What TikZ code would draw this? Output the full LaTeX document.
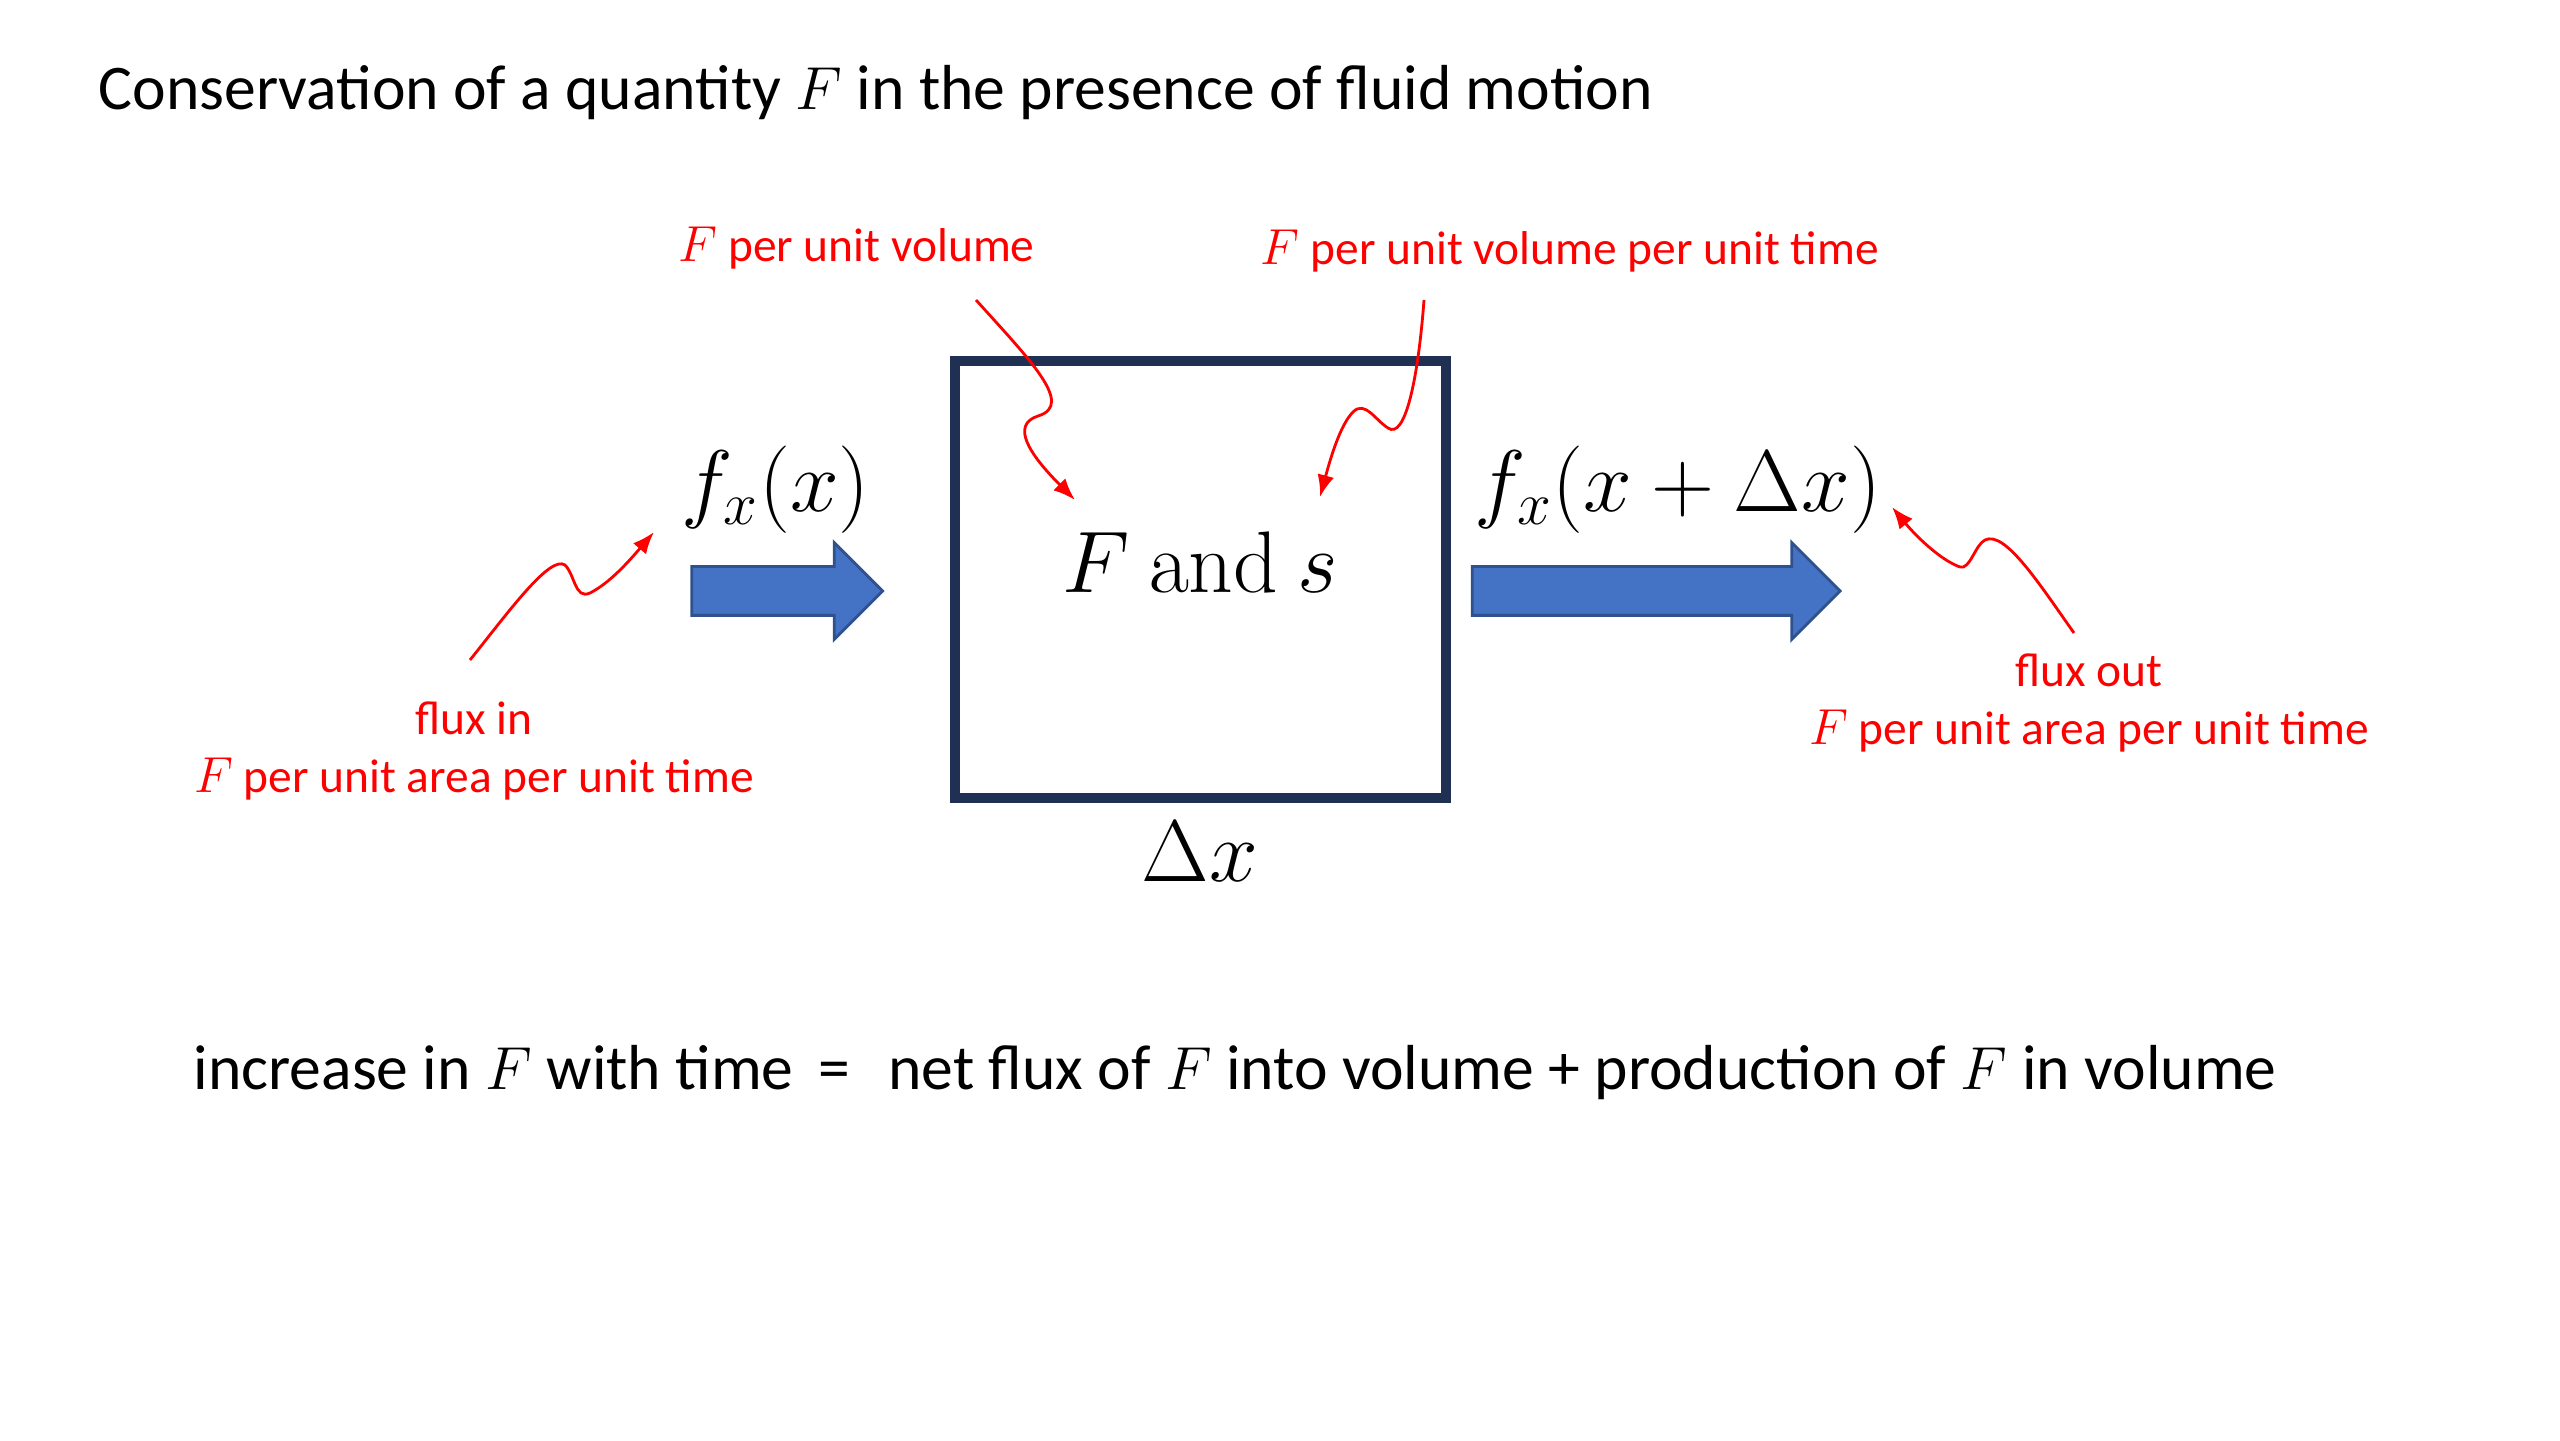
\documentclass[tikz,border=0pt]{standalone}
\usepackage{amsmath,amssymb}
\usepackage[no-math]{fontspec}
\setmainfont{Carlito}
\usepackage{xcolor}
\usepackage{tikz}
\usetikzlibrary{arrows.meta,positioning,calc,shapes.arrows}
\definecolor{CellNavy}{HTML}{1F3052}
\definecolor{FluxBlue}{HTML}{4472C4}
\definecolor{FluxEdge}{HTML}{2F528F}
\definecolor{NoteRed}{HTML}{FF0000}
\tikzset{
  cellbox/.style={draw=CellNavy,line width=0.1cm,fill=white,inner sep=0pt},
  fluxarrow/.style={single arrow,draw=FluxEdge,fill=FluxBlue,line width=0.8pt,
    inner sep=0pt,minimum width=0.94cm,single arrow head extend=0.24cm,
    text height=0.46cm,text depth=0pt,text width=0pt},
  mathlabel/.style={font=\fontsize{24}{28}\selectfont,inner sep=0pt},
  plaintext/.style={font=\fontsize{18.1}{22}\selectfont,inner sep=0pt},
  note/.style={font=\fontsize{13.5}{16.5}\selectfont,text=NoteRed,align=center,inner sep=0pt},
  notearrow/.style={-{Latex[length=2.2mm,width=1.7mm]},line width=0.8pt,NoteRed}
}

\begin{document}
\begin{tikzpicture}[x=1cm,y=1cm]
  \path[use as bounding box,fill=white] (0,0) rectangle (25.6,14.4);

  \node[plaintext,anchor=west] (title) at (0.98,13.47)
    {Conservation of a quantity $F$ in the presence of fluid motion};

  % control volume
  \node[cellbox,minimum width=4.91cm,minimum height=4.37cm] (cell) at (12.005,8.605) {};
  \node[mathlabel] (content) at (12.0,8.78) {$F\ \mathrm{and}\ s$};
  \node[mathlabel] (width) at (12.0,5.88) {$\Delta x$};

  % fluxes
  \node[fluxarrow,minimum height=1.91cm] (inflow) at (7.75,8.49) {};
  \node[fluxarrow,minimum height=3.68cm] (outflow) at (16.44,8.49) {};
  \node[mathlabel] (fluxleft) at (7.755,9.50) {$f_x(x)$};
  \node[mathlabel] (fluxright) at (16.78,9.50) {$f_x(x+\Delta x)$};

  % notes
  \node[note] (volnote) at (8.565,11.92) {$F$ per unit volume};
  \node[note] (prodnote) at (15.70,11.89) {$F$ per unit volume per unit time};
  \node[note] (innote) at (4.74,6.89) {flux in\\$F$ per unit area per unit time};
  \node[note] (outnote) at (20.89,7.375) {flux out\\$F$ per unit area per unit time};

  \coordinate (volfrom) at (9.76,11.40);
  \coordinate (volto) at (10.75,9.40);
  \coordinate (prodfrom) at (14.24,11.40);
  \coordinate (prodto) at (13.20,9.43);
  \coordinate (infrom) at (4.70,7.80);
  \coordinate (into) at (6.54,9.08);
  \coordinate (outfrom) at (20.74,8.07);
  \coordinate (outto) at (18.92,9.33);

  \draw[notearrow] (volfrom) .. controls (10.30,10.80) and (10.75,10.35) .. (10.38,10.24)
    .. controls (10.10,10.15) and (10.30,9.85) .. (volto);
  \draw[notearrow] (prodfrom) .. controls (14.18,10.60) and (14.05,10.00) .. (13.88,10.12)
    .. controls (13.75,10.20) and (13.65,10.40) .. (13.53,10.28)
    .. controls (13.40,10.15) and (13.30,9.80) .. (prodto);
  \draw[notearrow] (infrom) .. controls (5.10,8.30) and (5.50,8.85) .. (5.65,8.75)
    .. controls (5.75,8.65) and (5.75,8.40) .. (5.90,8.47)
    .. controls (6.10,8.57) and (6.30,8.80) .. (into);
  \draw[notearrow] (outfrom) .. controls (20.40,8.55) and (20.05,9.10) .. (19.85,9.00)
    .. controls (19.75,8.95) and (19.70,8.70) .. (19.60,8.73)
    .. controls (19.40,8.80) and (19.15,9.05) .. (outto);

  \node[plaintext,anchor=west] (balance) at (1.93,3.67)
    {increase in $F$ with time\hspace{0.25cm}=\hspace{0.38cm}net flux of $F$ into volume + production of $F$ in volume};
\end{tikzpicture}
\end{document}
